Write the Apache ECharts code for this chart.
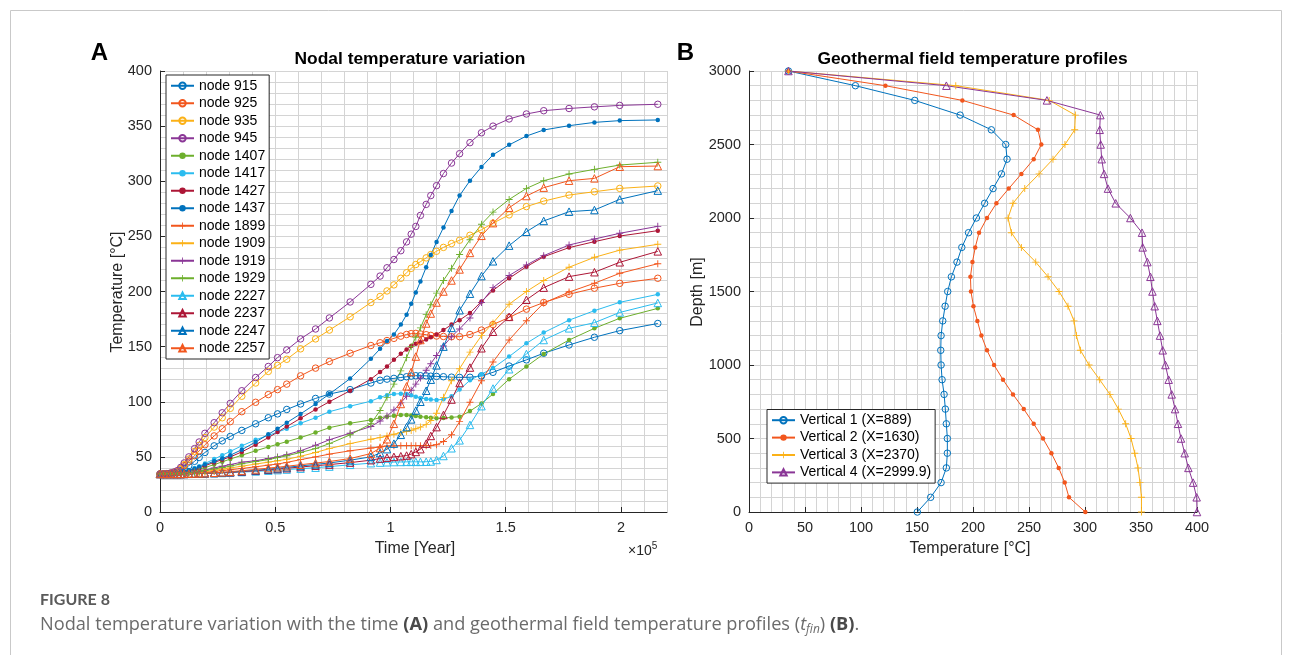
<!DOCTYPE html>
<html>
<head>
<meta charset="utf-8">
<script src="https://cdn.jsdelivr.net/npm/echarts@6/dist/echarts.min.js"></script>
<style>
html,body{margin:0;padding:0;background:#fff;}
#chart{width:1292px;height:655px;}
</style>
</head>
<body>
<div id="chart"></div>
<script>
// ---------------- DATA (panel A) ----------------
// time in units of 1e5 years
const timeE5 = [0, 0.015, 0.03, 0.045, 0.06, 0.075, 0.09, 0.105, 0.125, 0.15, 0.17, 0.195, 0.235, 0.27, 0.305, 0.355, 0.415, 0.47, 0.51, 0.55, 0.61, 0.675, 0.735, 0.825, 0.915, 0.955, 0.985, 1.015, 1.045, 1.07, 1.09, 1.11, 1.13, 1.155, 1.175, 1.2, 1.23, 1.265, 1.3, 1.345, 1.395, 1.445, 1.515, 1.59, 1.665, 1.775, 1.885, 1.995, 2.16];

const node915 = [34.5,34.5,34.6,34.8,35.2,36,37.5,39.5,42,46,49.5,54,60,64.5,68.5,74,80,85.5,89,93,98,103,107,111,117,119.5,120.5,121.2,122,122.7,123.3,123.6,123.6,123.5,123.2,123,122.7,122.3,122.1,122.2,123.4,126.7,132.4,138,144,151.5,158.5,164.5,171];
const node925 = [34.5,34.5,34.7,35,35.6,37,39,42,46,51,55.5,61,69,75.5,82,91,99.5,106.5,111,116,123.5,130.5,136.5,144,151,153.5,155.5,157.5,159.5,161,161.8,162,161.5,160.8,160.2,159.6,159.2,159,159,161,165,170,176.5,184,190,197.5,203,207.4,212];
const node935 = [34.5,34.5,34.8,35.2,36,37,39.5,43,48,55,60.5,67.5,77,85.5,94,105,117,127.5,133,138.5,148,157,165,177,190,195.5,200.5,206,212,217,221,224.5,227,230.5,233.5,236.5,240,243.5,246.5,251,256,262,269.5,277,282,287.5,290.5,293.5,295.7];
const node945 = [34.5,34.5,34.8,35.3,36.2,37.5,40.5,44.5,50,57.5,63.5,71.4,81,90,98.5,110,122,132,140,147,157,166,176,190.5,206.5,214,221.5,229,237,245,252,259,269,279,287,296,307,316.5,325,335,344,350,356.5,361,364,366,367.5,368.8,369.8];
const node1407 = [34.5,34.5,34.5,34.5,34.6,34.8,35.2,35.8,36.6,37.8,38.8,40.3,43,45.5,48,51.5,55.5,59,61.5,63.8,67.5,72,76.5,80.5,83.5,85.5,86.5,87.3,88,88,87.5,87,86.5,86,85.5,85,85.3,85.8,86.5,91.5,98.5,107,120.5,132,143.3,156,166.6,175.7,184.7];
const node1417 = [34.5,34.5,34.5,34.6,34.9,35.3,36,36.8,38,39.8,41.5,44,48,51.5,55,60,65.5,69.5,72.5,75.5,80.5,85.5,91,96,100.5,104,106,107,107.3,107,106,104.5,103.5,102.5,102,101.6,102.2,105,111,119.5,125,130.5,141,153,162.7,174,182.6,190.2,197.4];
const node1427 = [34.5,34.5,34.5,34.6,34.8,35.2,35.8,36.5,37.5,38.5,40,42,45,47.5,50,54.5,61,67.5,72.5,77.5,85,93,100,110,120.5,127,132,138,143.5,147.5,150.5,152.5,154,156.5,158.5,161,165,170,174,180.5,191,201,212,222.5,231.5,239.8,245.2,250.3,255.2];
const node1437 = [34.5,34.5,34.5,34.6,34.9,35.3,36,36.8,37.8,39.2,40.8,43,46,48.5,51.5,56.5,63.5,70.5,75.5,81,89,98,107,121,139,148,155,161,170,179,189,199,209,222,233,245,258,273,287,300.5,313,324,333,341,346.5,350.4,353.4,355,355.6];
const node1899 = [34.5,34.5,34.5,34.5,34.5,34.5,34.6,34.7,34.9,35.2,35.5,36,36.8,37.5,38.3,39.5,41,42.5,43.5,45,47.5,50,52.5,55.5,58,59,59.8,60,60.2,60.2,60.2,60.2,60.2,60.2,60.3,61,64,70,82,99.5,119,136,156,173.5,189.5,199.5,207.5,216.5,225.2];
const node1909 = [34.5,34.5,34.5,34.5,34.5,34.6,34.7,34.9,35.2,35.6,36.1,36.7,37.8,38.8,40,41.5,43.5,45.2,46.5,47.8,50.5,54,57.5,62,66,67.5,69,70.5,72,73,74,75.5,77,79.5,83,89.5,104,119,130,145,160,171.5,188.5,200,210,222,231,237.5,242.8];
const node1919 = [34.5,34.5,34.5,34.5,34.6,34.7,34.9,35.2,35.7,36.4,37.1,38.1,40,41.5,43,45.2,46.5,48.5,50,52,55.5,60.5,65.5,71.5,77.5,82.5,87,92.5,99,105,110.5,116,121.5,128.5,134.5,142,150.5,159,166,176,190,203.5,214.5,224,232.5,242.2,247.6,252.8,259.1];
const node1929 = [34.5,34.5,34.5,34.5,34.6,34.7,34.9,35.2,35.6,36.2,36.8,37.6,39,40.3,41.6,43.8,45.8,47.5,49.3,51,54,57.5,62,70,80,92,104,116,128,140,150,158.5,167,179,188,198.5,210,221,233.5,247,261,272,283.5,293.5,300.5,306.6,310.8,314.7,317.2];
const node2227 = [34.5,34.5,34.5,34.5,34.5,34.5,34.5,34.5,34.6,34.7,34.8,34.9,35.2,35.4,35.7,36.2,36.8,37.5,38,38.5,39.3,40.2,41.2,42.8,44.3,44.8,45.1,45.3,45.4,45.5,45.5,45.5,45.5,45.6,45.8,47.2,50.8,57.8,65,79,96,112,129.5,143.3,156,166.6,171.7,181,189.6];
const node2237 = [34.5,34.5,34.5,34.5,34.5,34.5,34.5,34.6,34.7,34.8,34.9,35.1,35.4,35.7,36,36.6,37.4,38.3,39,39.7,40.8,42,43,44.8,47,48.5,49.3,50,50.6,51.2,52.5,54.5,57,62,69,77,88,102,117,131,148.5,163.5,177,192.5,203.5,213.5,217.5,226.5,236.4];
const node2247 = [34.5,34.5,34.5,34.5,34.5,34.5,34.5,34.6,34.7,34.8,34.9,35.1,35.4,35.8,36.3,37,37.8,38.8,39.6,40.5,41.8,43.2,44.5,47,50,53.5,57,62,70,77,84,92,100,110,120,133,150,167,183,198,214,227.4,241.6,254.2,264,272.4,273.9,283.6,291.5];
const node2257 = [34.5,34.5,34.5,34.5,34.5,34.5,34.5,34.6,34.7,34.9,35,35.2,35.6,36,36.6,37.5,38.6,39.8,40.6,41.5,42.9,44.4,45.8,48.5,53,58,66,80,98,114,127,141,156,171,180,190,200,210,220,235,250.5,262,276,286.6,294.2,300.5,302.6,313.2,313.8];

const timeTicks = [0, 0.5, 1, 1.5, 2];

// ---------------- DATA (panel B) ----------------
const depthM = [0,100,200,300,400,500,600,700,800,900,1000,1100,1200,1300,1400,1500,1600,1700,1800,1900,2000,2100,2200,2300,2400,2500,2600,2700,2800,2900,3000];
const vertical1 = [150.3,162.2,171.5,176.2,177.1,177.1,176.2,175.3,174.2,172.4,171.5,171.2,171.5,173,175.1,177.4,180.7,185.7,190,196,203,210.4,217.9,225.4,230.4,229.2,216.4,188.5,148,95,35.2];
const vertical2 = [300.3,285.7,281.9,276.5,270,262.5,254.2,245.3,235.7,226.8,218.8,212.5,207.5,203.9,200.4,198.2,197.7,199.5,202,205.4,212.5,220.9,231.9,243.2,254.2,261,258,236.3,190.5,121.8,35.2];
const vertical3 = [350.4,350.4,349.1,347.3,344.4,341.1,336.3,329.8,322.3,313.1,303.6,295.9,292.3,290.2,284.8,276.8,267,256,243.2,234.3,231.3,235.7,246.2,259,271.4,282.1,290.8,291.4,268,184.6,35.2];
const vertical4 = [400,399.7,396.5,392.3,389,385.7,383,380.4,377.4,374.7,371.8,369.4,367,364.6,362.2,360.2,358.4,355.7,351.5,350.9,340.5,327.4,320.5,317,314.9,314,313.1,313.7,266,176.2,35.2];

// ---------------- STYLE ----------------
const FONT = '"Liberation Sans", Arial, Helvetica, sans-serif';
const INK = '#262626';
const GRID_LINE = '#d4d4d4';
const C = {blue:'#0072BD', orange:'#F2561D', yellow:'#FBB117', purple:'#8A3696', green:'#6DAF2C', cyan:'#2BBCEF', wine:'#AD1636'};
const PLUS = 'path://M4.35,0H5.65V4.35H10V5.65H5.65V10H4.35V5.65H0V4.35H4.35Z';

function marker(kind, color) {
  if (kind === 'o') return {symbol:'circle', symbolSize:6.5, itemStyle:{color:'rgba(255,255,255,0)', borderColor:color, borderWidth:1}};
  if (kind === '*') return {symbol:'circle', symbolSize:4.5, itemStyle:{color:color, borderWidth:0}};
  if (kind === '+') return {symbol:PLUS, symbolSize:7, itemStyle:{color:color, borderWidth:0}};
  return {symbol:'triangle', symbolSize:7.5, itemStyle:{color:'rgba(255,255,255,0)', borderColor:color, borderWidth:1}};
}

const leftDefs = [
  ['node 915', node915, C.blue, 'o'],
  ['node 925', node925, C.orange, 'o'],
  ['node 935', node935, C.yellow, 'o'],
  ['node 945', node945, C.purple, 'o'],
  ['node 1407', node1407, C.green, '*'],
  ['node 1417', node1417, C.cyan, '*'],
  ['node 1427', node1427, C.wine, '*'],
  ['node 1437', node1437, C.blue, '*'],
  ['node 1899', node1899, C.orange, '+'],
  ['node 1909', node1909, C.yellow, '+'],
  ['node 1919', node1919, C.purple, '+'],
  ['node 1929', node1929, C.green, '+'],
  ['node 2227', node2227, C.cyan, '^'],
  ['node 2237', node2237, C.wine, '^'],
  ['node 2247', node2247, C.blue, '^'],
  ['node 2257', node2257, C.orange, '^']
];
const rightDefs = [
  ['Vertical 1 (X=889)', vertical1, C.blue, 'o'],
  ['Vertical 2 (X=1630)', vertical2, C.orange, '*'],
  ['Vertical 3 (X=2370)', vertical3, C.yellow, '+'],
  ['Vertical 4 (X=2999.9)', vertical4, C.purple, '^']
];

const series = [];
leftDefs.forEach(([name, vals, color, kind]) => {
  series.push(Object.assign({
    name, type:'line', xAxisIndex:1, yAxisIndex:1,
    data: timeE5.map((t, i) => [t, vals[i]]),
    lineStyle:{color:color, width:1}, showSymbol:true, clip:false, silent:true,
    emphasis:{disabled:true}
  }, marker(kind, color)));
});
rightDefs.forEach(([name, vals, color, kind]) => {
  series.push(Object.assign({
    name, type:'line', xAxisIndex:3, yAxisIndex:3,
    data: depthM.map((d, i) => [vals[i], d]),
    lineStyle:{color:color, width:1}, showSymbol:true, clip:false, silent:true,
    emphasis:{disabled:true}
  }, marker(kind, color)));
});

function gridAxis(gi, min, max, interval, pos) {
  return {gridIndex:gi, type:'value', min, max, interval, position:pos,
    axisLine:{show:false, onZero:false}, axisTick:{show:false}, axisLabel:{show:false},
    splitLine:{show:true, lineStyle:{color:GRID_LINE, width:1}}};
}
function labelAxis(gi, min, max, interval, pos, ticks, fmt) {
  return {gridIndex:gi, type:'value', min, max, interval, position:pos,
    axisLine:{show:true, onZero:false, lineStyle:{color:INK, width:1}},
    axisTick:{show:true, inside:true, length:5, lineStyle:{color:INK}, customValues:ticks},
    axisLabel:{color:INK, fontSize:14.5, fontFamily:FONT, margin:8, customValues:ticks, formatter:fmt},
    splitLine:{show:false}};
}
const fmtTime = v => (v > 2.1 ? '' : String(+(+v).toFixed(1)));
const fmtInt = v => String(Math.round(v));

function txt(text, x, y, opt, rotation) {
  return {type:'text', x, y, rotation:rotation || 0, silent:true, z:10,
    style:Object.assign({text, fill:'#000', fontFamily:FONT, fontSize:16,
      align:'center', verticalAlign:'middle', textAlign:'center', textVerticalAlign:'middle'}, opt)};
}

const CAP = '"Open Sans", "Lato", sans-serif';
const CAP_SIZE = 18.2;
const capStyle = {fontFamily:CAP, fontSize:CAP_SIZE, fill:'#6b6b6b', lineHeight:22};

const option = {
  backgroundColor:'#fff',
  animation:false,
  grid:[
    {left:160, top:71, width:507, height:441},
    {left:749, top:71, width:448, height:441}
  ],
  xAxis:[
    gridAxis(0, 0, 2.2, 0.1, 'bottom'),
    labelAxis(0, 0, 2.2, 0.5, 'bottom', timeTicks, fmtTime),
    gridAxis(1, 0, 400, 10, 'bottom'),
    labelAxis(1, 0, 400, 50, 'bottom', null, fmtInt)
  ],
  yAxis:[
    gridAxis(0, 0, 400, 10, 'left'),
    labelAxis(0, 0, 400, 50, 'left', null, fmtInt),
    gridAxis(1, 0, 3000, 100, 'left'),
    labelAxis(1, 0, 3000, 500, 'left', null, fmtInt)
  ],
  legend:[
    {data:leftDefs.map(d => d[0]), orient:'vertical', left:166, top:75, padding:[2,4,2,4],
     itemGap:0, itemWidth:23, itemHeight:8, borderColor:INK, borderWidth:1, borderRadius:0,
     backgroundColor:'#fff', selectedMode:false,
     textStyle:{fontSize:14, fontFamily:FONT, color:'#000', lineHeight:17.5}},
    {data:rightDefs.map(d => d[0]), orient:'vertical', left:767, top:409.5, padding:[2,4,2,4],
     itemGap:0, itemWidth:23, itemHeight:8, borderColor:INK, borderWidth:1, borderRadius:0,
     backgroundColor:'#fff', selectedMode:false,
     textStyle:{fontSize:14, fontFamily:FONT, color:'#000', lineHeight:17.4}}
  ],
  series,
  graphic:[
    {type:'polyline', silent:true, shape:{points:[[10.5,656],[10.5,10.5],[1281.5,10.5],[1281.5,656]]},
     style:{stroke:'#c9c9c9', lineWidth:1, fill:null}},
    txt('A', 99.5, 53, {fontSize:24, fontWeight:'bold'}),
    txt('B', 685.5, 53, {fontSize:24, fontWeight:'bold'}),
    txt('Nodal temperature variation', 410, 59, {fontSize:17.4, fontWeight:'bold'}),
    txt('Geothermal field temperature profiles', 972.5, 59, {fontSize:17.4, fontWeight:'bold'}),
    txt('Temperature [°C]', 118, 292, {fontSize:16, fill:INK}, Math.PI / 2),
    txt('Time [Year]', 415, 549, {fontSize:16, fill:INK}),
    {type:'text', x:628, y:551, silent:true, z:10,
     style:{text:'×10{s|5}', fontFamily:FONT, fontSize:14, fill:INK, lineHeight:20,
       align:'left', verticalAlign:'middle', textAlign:'left', textVerticalAlign:'middle',
       rich:{s:{fontFamily:FONT, fontSize:10, fill:INK, lineHeight:10, verticalAlign:'top'}}}},
    txt('Depth [m]', 698, 292, {fontSize:16, fill:INK}, Math.PI / 2),
    txt('Temperature [°C]', 970, 549, {fontSize:16, fill:INK}),
    {type:'text', x:40, y:600, silent:true, z:10,
     style:{text:'FIGURE 8', fontFamily:'"Lato", sans-serif', fontSize:16, fontWeight:'bold', fill:'#5a5a5a',
       align:'left', verticalAlign:'middle', textAlign:'left', textVerticalAlign:'middle'}},
    {type:'text', x:40, y:625, silent:true, z:10,
     style:Object.assign({}, capStyle, {
       text:'Nodal temperature variation with the time {b|(A)} and geothermal field temperature profiles ({s|t}{u|fin}) {b|(B)}.',
       align:'left', verticalAlign:'middle', textAlign:'left', textVerticalAlign:'middle',
       rich:{
         b:{fontFamily:CAP, fontSize:CAP_SIZE, fontWeight:'bold', fill:'#4a4a4a', lineHeight:22},
         s:{fontFamily:CAP, fontSize:CAP_SIZE, fontStyle:'italic', fill:'#6b6b6b', lineHeight:22},
         u:{fontFamily:CAP, fontSize:12, fontStyle:'italic', fill:'#6b6b6b', lineHeight:12, verticalAlign:'bottom'}
       }})}
  ]
};

const chart = echarts.init(document.getElementById('chart'), null, {renderer:'canvas'});
chart.setOption(option);
</script>
</body>
</html>
